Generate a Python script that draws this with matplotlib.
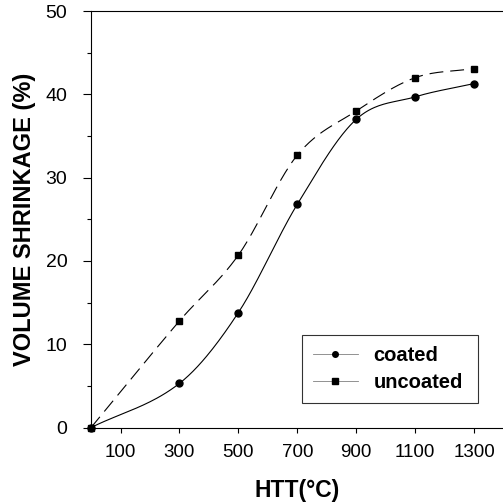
import numpy as np
import matplotlib
matplotlib.use('Agg')
import matplotlib.pyplot as plt
from matplotlib.lines import Line2D

plt.rcParams['font.family'] = ['Liberation Sans', 'DejaVu Sans']
plt.rcParams['lines.scale_dashes'] = False

# 数据
htt = [0, 300, 500, 700, 900, 1100, 1300]
coated = [0, 5.3, 13.8, 26.8, 37.0, 39.7, 41.3]
uncoated = [0, 12.8, 20.7, 32.7, 38.0, 42.0, 43.1]
xticks = [100, 300, 500, 700, 900, 1100, 1300]
yticks = [0, 10, 20, 30, 40, 50]


def smooth(x, y, n=40):
    # 平滑连线 (Catmull-Rom 三次曲线), 只用来画线
    x = np.asarray(x, float)
    y = np.asarray(y, float)
    h = np.diff(x)
    m = np.zeros_like(y)
    m[1:-1] = (y[2:] - y[:-2]) / (x[2:] - x[:-2])
    m[0] = (y[1] - y[0]) / h[0]
    m[-1] = (y[-1] - y[-2]) / h[-1]
    xs, ys = [], []
    for k in range(len(x) - 1):
        t = np.linspace(0, 1, n)
        h00 = 2 * t**3 - 3 * t**2 + 1
        h10 = t**3 - 2 * t**2 + t
        h01 = -2 * t**3 + 3 * t**2
        h11 = t**3 - t**2
        xs.append(x[k] + t * h[k])
        ys.append(h00 * y[k] + h10 * h[k] * m[k] + h01 * y[k + 1] + h11 * h[k] * m[k + 1])
    return np.concatenate(xs), np.concatenate(ys)


fig = plt.figure(figsize=(5.03, 5.03), dpi=100)
ax = fig.add_axes([0.181, 0.150, 0.820, 0.828])

xc, yc = smooth(htt, coated)
xu, yu = smooth(htt, uncoated)
ax.plot(xc, yc, color='black', lw=0.8)
ax.plot(xu, yu, color='black', lw=0.8, dashes=(10, 5))
ax.plot(htt, coated, 'o', color='black', ms=5, clip_on=False)
ax.plot(htt, uncoated, 's', color='black', ms=4.5, clip_on=False)

ax.set_xlim(0, 1400)
ax.set_ylim(0, 50)
ax.set_xticks(xticks)
ax.set_yticks(yticks)
ax.set_yticks([5, 15, 25, 35, 45], minor=True)
ax.tick_params(axis='x', direction='out', length=3.5, width=0.8, pad=8, labelsize=13.5)
ax.tick_params(axis='y', direction='out', length=6, width=0.8, pad=11, labelsize=14)
ax.tick_params(axis='y', which='minor', direction='out', length=3, width=0.8)
ax.spines['right'].set_visible(False)
for s in ['left', 'bottom', 'top']:
    ax.spines[s].set_linewidth(0.8)

ax.set_xlabel('HTT(°C)', fontsize=16.5, fontweight='bold', labelpad=13)
ax.set_ylabel('VOLUME SHRINKAGE (%)', fontsize=17, fontweight='bold', labelpad=7)

handles = [
    Line2D([], [], color='gray', lw=0.6, marker='o', ms=4, mfc='black', mec='black'),
    Line2D([], [], color='gray', lw=0.6, marker='s', ms=4, mfc='black', mec='black'),
]
leg = ax.legend(handles, ['coated', 'uncoated'], loc='lower left',
                bbox_to_anchor=(0.512, 0.059, 0.425, 0.168), mode='expand',
                borderaxespad=0, prop={'size': 14.5, 'weight': 'bold'},
                fancybox=False, handlelength=2.2, handletextpad=0.8,
                borderpad=0.55, labelspacing=0.4)
leg.get_frame().set_edgecolor('black')
leg.get_frame().set_linewidth(0.8)

fig.savefig('out.png', dpi=100)
